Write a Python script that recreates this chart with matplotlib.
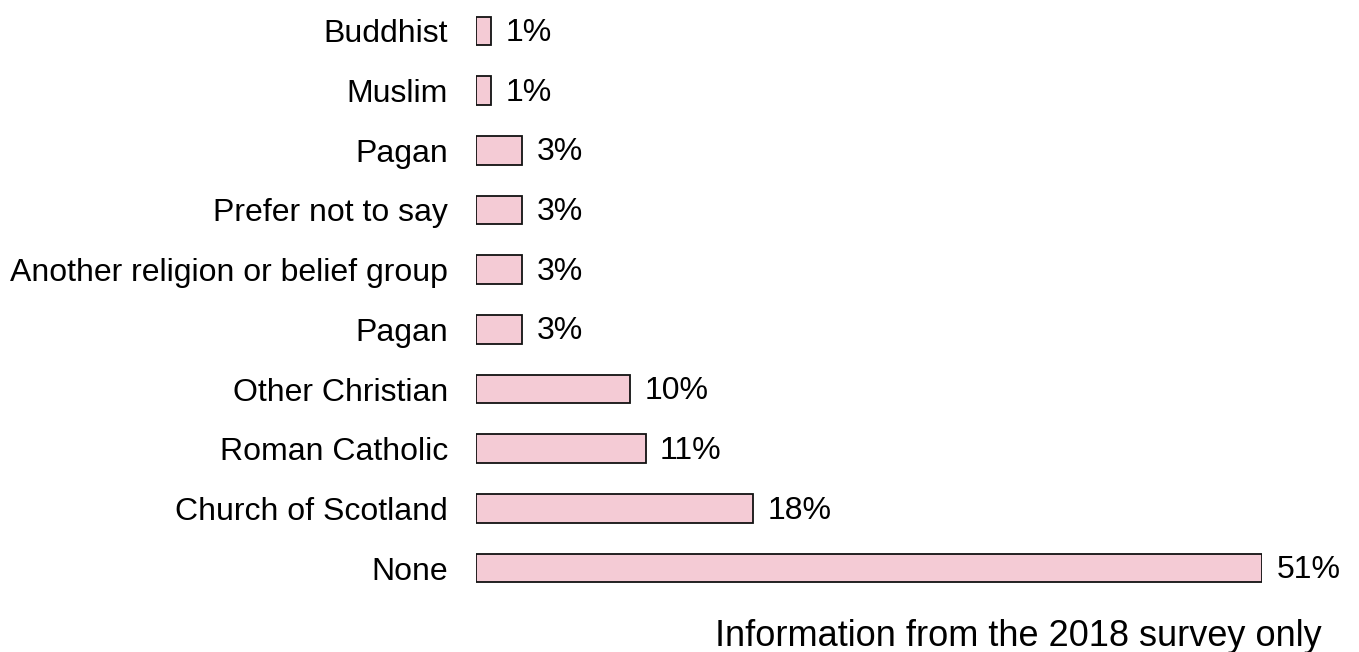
import matplotlib
matplotlib.use("Agg")
import matplotlib.pyplot as plt

# religion categories, top to bottom
categories = ["Buddhist", "Muslim", "Pagan", "Prefer not to say",
              "Another religion or belief group", "Pagan", "Other Christian",
              "Roman Catholic", "Church of Scotland", "None"]
percent = [1, 1, 3, 3, 3, 3, 10, 11, 18, 51]

plt.rcParams['font.family'] = ['Liberation Sans', 'DejaVu Sans']

W, H = 1359, 652
fig = plt.figure(figsize=(W / 100, H / 100), dpi=100)
# axes placed in pixel terms: x=0 at 476px, 51% at 1262px
ax = fig.add_axes([476 / W, 1 - 598 / H, 786 / W, 597 / H])

pos = list(range(len(categories)))
ax.barh(pos, percent, height=0.48, color="#F4CBD5", edgecolor="#111111", linewidth=1.3)
ax.set_xlim(0, 51)
ax.set_ylim(len(categories) - 0.5, -0.5)

for y, v in zip(pos, percent):
    ax.annotate(f"{v}%", (v, y), xytext=(10.5, -1.5), textcoords="offset points",
                va="center", ha="left", fontsize=23)

ax.set_yticks(pos)
ax.set_yticklabels(categories, fontsize=23)
ax.tick_params(axis="y", length=0, pad=20)
ax.set_xticks([])
for s in ax.spines.values():
    s.set_visible(False)

fig.text(1322 / W, 1 - 636 / H, "Information from the 2018 survey only",
         ha="right", va="center", fontsize=26)

fig.savefig("out.png", dpi=100)
